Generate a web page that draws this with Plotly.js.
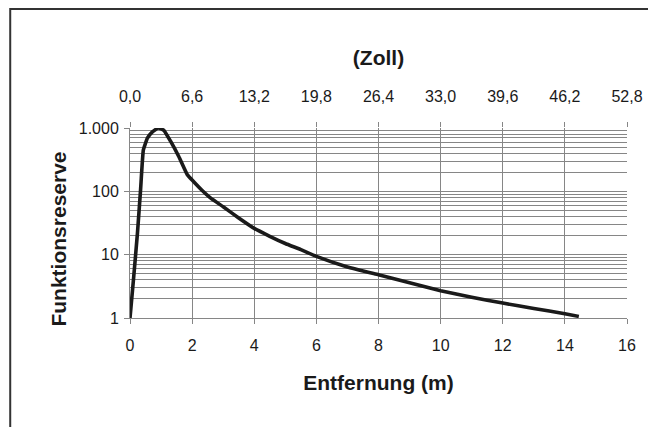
<!DOCTYPE html>
<html>
<head>
<meta charset="utf-8">
<script src="https://cdn.plot.ly/plotly-3.0.1.min.js"></script>
<style>
  html, body { margin: 0; padding: 0; background: #ffffff; }
  #chart { width: 648px; height: 427px; }
</style>
</head>
<body>
<div id="chart"></div>
<script>
// Distance in metres (bottom axis) and operating reserve (log scale)
const distance = [0, 0.12, 0.24, 0.34, 0.43, 0.56, 0.72, 0.91, 1.09, 1.31, 1.57, 1.84, 2.0, 2.3, 2.6, 3.0, 3.5, 4.0, 4.5, 5.0, 5.5, 6.0, 7.0, 8.0, 9.0, 10.0, 11.0, 12.0, 13.0, 14.0, 14.45];
const reserve  = [1, 4.5, 22, 105, 450, 690, 870, 1000, 920, 613, 355, 185, 151, 106, 78, 57, 38, 26, 19.5, 15, 12, 9.4, 6.4, 4.8, 3.6, 2.7, 2.13, 1.72, 1.41, 1.17, 1.06];

// Tick positions / labels
const meterTicks = [0, 2, 4, 6, 8, 10, 12, 14, 16];
const inchLabels = ["0,0", "6,6", "13,2", "19,8", "26,4", "33,0", "39,6", "46,2", "52,8"];
const reserveTicks = [1, 10, 100, 1000];
const reserveLabels = ["1", "10", "100", "1.000"];

const FONT = "'Liberation Sans', Arial, Helvetica, sans-serif";
const GRID = "#868686";
const INK = "#1a1a1a";

const trace = {
  x: distance,
  y: reserve,
  type: "scatter",
  mode: "lines",
  line: { color: INK, width: 3.6, shape: "spline", smoothing: 0.35 },
  cliponaxis: false,
  hoverinfo: "skip",
  showlegend: false
};

const topTrace = {
  x: [0, 16], y: [1, 1], xaxis: "x2", yaxis: "y",
  type: "scatter", mode: "none", hoverinfo: "skip", showlegend: false
};

const layout = {
  width: 648,
  height: 427,
  margin: { l: 129.5, r: 21, t: 128, b: 109, pad: 0 },
  paper_bgcolor: "#ffffff",
  plot_bgcolor: "#ffffff",
  font: { family: FONT, size: 16, color: INK },
  xaxis: {
    range: [0, 16],
    tickvals: meterTicks,
    ticktext: meterTicks.map(String),
    ticks: "outside",
    ticklen: 5,
    tickcolor: GRID,
    tickwidth: 1,
    ticklabelstandoff: 8,
    showgrid: true,
    gridcolor: GRID,
    gridwidth: 1,
    showline: true,
    linecolor: GRID,
    linewidth: 1,
    zeroline: false,
    tickfont: { family: FONT, size: 16, color: INK },
    title: { text: "<b>Entfernung (m)</b>", font: { family: FONT, size: 21, color: INK }, standoff: 22 },
    fixedrange: true
  },
  xaxis2: {
    overlaying: "x",
    side: "top",
    range: [0, 16],
    tickvals: meterTicks,
    ticktext: inchLabels,
    ticks: "outside",
    ticklen: 5,
    tickcolor: GRID,
    tickwidth: 1,
    ticklabelstandoff: 14,
    showgrid: false,
    showline: false,
    zeroline: false,
    tickfont: { family: FONT, size: 16, color: INK },
    title: { text: "<b>(Zoll)</b>", font: { family: FONT, size: 21, color: INK }, standoff: 16 },
    fixedrange: true
  },
  yaxis: {
    type: "log",
    range: [0, 3],
    tickvals: reserveTicks,
    ticktext: reserveLabels,
    ticks: "outside",
    ticklen: 5,
    tickcolor: GRID,
    tickwidth: 1,
    ticklabelstandoff: 2,
    showgrid: true,
    gridcolor: GRID,
    gridwidth: 1,
    minor: { showgrid: true, gridcolor: GRID, gridwidth: 1, dtick: "D1", ticks: "" },
    showline: true,
    linecolor: GRID,
    linewidth: 1,
    zeroline: false,
    tickfont: { family: FONT, size: 16, color: INK },
    fixedrange: true
  },
  annotations: [
    {
      text: "<b>Funktionsreserve</b>",
      xref: "paper", yref: "paper",
      x: -0.1437, y: 0.416,
      xanchor: "center", yanchor: "middle",
      textangle: -90,
      showarrow: false,
      font: { family: FONT, size: 21, color: INK }
    }
  ],
  shapes: [
    {
      type: "rect",
      xref: "paper", yref: "paper",
      x0: -0.241, x1: 1.08,
      y0: -0.7, y1: 1.626,
      line: { color: "#333333", width: 2 },
      fillcolor: "rgba(0,0,0,0)",
      layer: "below"
    }
  ]
};

Plotly.newPlot("chart", [trace, topTrace], layout, { displayModeBar: false, staticPlot: true });
</script>
</body>
</html>
